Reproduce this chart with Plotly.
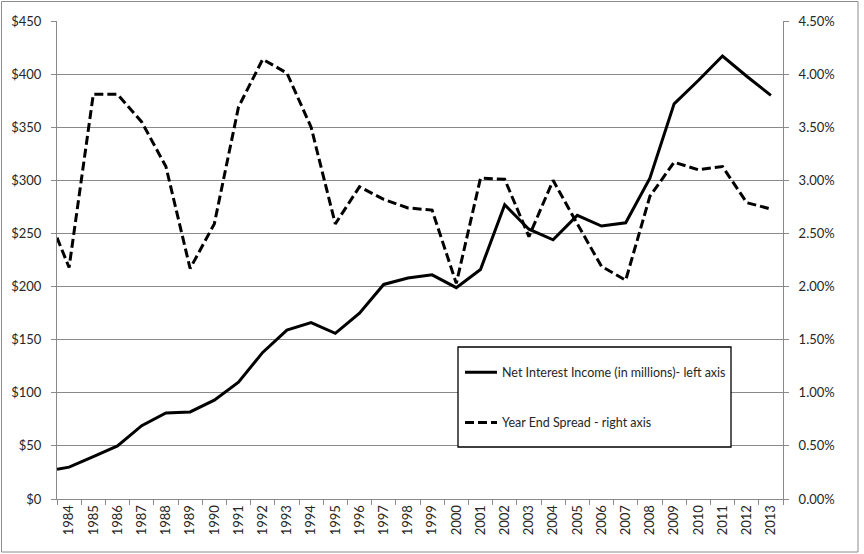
import plotly.graph_objects as go

# ---- data ----
years = list(range(1984, 2014))
year_labels = [str(y) for y in years]
# first point of each series sits on the left edge of the plot (as in the original)
x_points = [1983.5] + years

net_interest_income = [28, 30, 40, 50, 69, 81, 82, 93, 110, 138, 159, 166, 156, 175,
                       202, 208, 211, 199, 216, 277, 254, 244, 267, 257, 260, 302,
                       372, 394, 417, 398, 380]
year_end_spread = [2.46, 2.18, 3.81, 3.81, 3.55, 3.13, 2.17, 2.59, 3.69, 4.14, 4.01,
                   3.50, 2.59, 2.94, 2.82, 2.74, 2.72, 2.03, 3.02, 3.01, 2.47, 3.00,
                   2.59, 2.19, 2.06, 2.85, 3.17, 3.10, 3.13, 2.79, 2.73]

left_ticks = [0, 50, 100, 150, 200, 250, 300, 350, 400, 450]
left_tick_text = ["$" + str(v) for v in left_ticks]
right_ticks = [0, 0.5, 1.0, 1.5, 2.0, 2.5, 3.0, 3.5, 4.0, 4.5]
right_tick_text = [f"{v:.2f}%" for v in right_ticks]

FONT = "Lato, 'Open Sans', sans-serif"
GRID = "#8a8a8a"
TXT = "#262626"

fig = go.Figure()
fig.add_trace(go.Scatter(
    x=x_points, y=net_interest_income, mode="lines",
    name="Net Interest Income (in millions)- left axis",
    line=dict(color="black", width=3), legendgroup="a", yaxis="y"))
fig.add_trace(go.Scatter(
    x=x_points, y=year_end_spread, mode="lines",
    name="Year End Spread - right axis",
    line=dict(color="black", width=3, dash="9px,4px"), legendgroup="b", yaxis="y2"))

W, H = 864, 554
L, R, T, B = 57, 81, 21, 55
pw, ph = W - L - R, H - T - B

def px_x(p):
    return (p - L) / pw

def px_y(p):
    return (H - B - p) / ph

fig.update_layout(
    width=W, height=H,
    margin=dict(l=L, r=R, t=T, b=B),
    paper_bgcolor="white", plot_bgcolor="white",
    font=dict(family=FONT, size=13, color=TXT),
    showlegend=True,
    legend=dict(
        x=px_x(460), y=px_y(357.5), xanchor="left", yanchor="top",
        borderwidth=0, bgcolor="rgba(0,0,0,0)",
        tracegroupgap=31, itemwidth=32,
        font=dict(family=FONT, size=12.5, color=TXT)),
    xaxis=dict(
        range=[1983.5, 2013.5], tickmode="array", tickvals=years, ticktext=year_labels,
        tickangle=-90, ticks="", showgrid=False, zeroline=False,
        showline=True, linecolor=GRID, linewidth=1,
        minor=dict(tickmode="array", tickvals=[y - 0.5 for y in years] + [2013.5],
                   ticks="outside", ticklen=5, tickcolor=GRID, showgrid=False),
        tickfont=dict(size=13)),
    yaxis=dict(
        range=[0, 450], tickmode="array", tickvals=left_ticks, ticktext=left_tick_text,
        ticks="outside", ticklen=5, tickcolor=GRID, ticklabelstandoff=7,
        showgrid=True, gridcolor=GRID, gridwidth=1, zeroline=False,
        showline=True, linecolor=GRID, linewidth=1),
    yaxis2=dict(
        range=[0, 4.5], overlaying="y", side="right",
        tickmode="array", tickvals=right_ticks, ticktext=right_tick_text,
        ticks="outside", ticklen=5, tickcolor=GRID, ticklabelstandoff=7,
        showgrid=False, zeroline=False,
        showline=True, linecolor=GRID, linewidth=1),
    shapes=[
        dict(type="rect", xref="paper", yref="paper",
             x0=px_x(1.5), x1=px_x(858), y0=px_y(552), y1=px_y(1.5),
             line=dict(color="#8c8c8c", width=1), layer="below"),
        # legend frame
        dict(type="rect", xref="paper", yref="paper",
             x0=px_x(458), x1=px_x(731), y0=px_y(447), y1=px_y(347),
             line=dict(color="black", width=1.3), fillcolor="white", layer="above"),
    ],
)

fig.write_html("out.html", config={"displayModeBar": False},
               post_script="document.body.style.margin='0';")
